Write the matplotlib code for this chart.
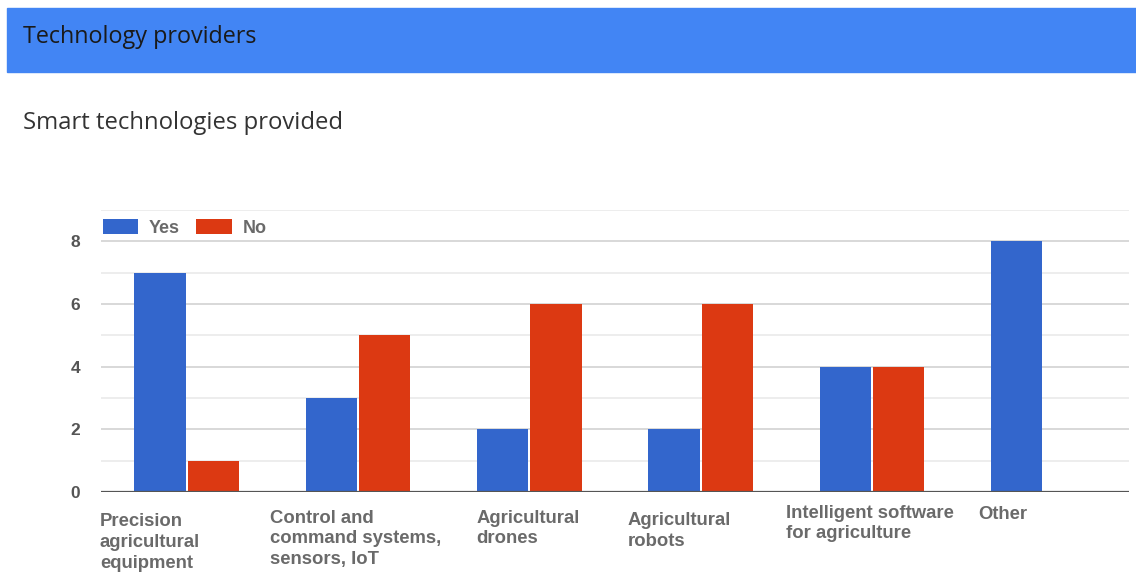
import numpy as np
import matplotlib.pyplot as plt
from matplotlib.patches import Rectangle

categories = [
    "Precision\nagricultural\nequipment",
    "Control and\ncommand systems,\nsensors, IoT",
    "Agricultural\ndrones",
    "Agricultural\nrobots",
    "Intelligent software\nfor agriculture",
    "Other",
]
yes_counts = [7, 3, 2, 2, 4, 8]
no_counts = [1, 5, 6, 6, 4, 0]
y_ticks = [0, 2, 4, 6, 8]

BLUE = "#3366cc"
RED = "#dc3912"
HEADER = "#4285f4"

plt.rcParams["font.family"] = ["Liberation Sans", "DejaVu Sans"]

fig = plt.figure(figsize=(11.36, 5.73), dpi=100)
fig.patch.set_facecolor("white")

# header band
fig.patches.append(Rectangle((7 / 1136, 1 - 72 / 573), 1, 64 / 573,
                             transform=fig.transFigure, color=HEADER, zorder=0))
fig.text(23 / 1136, 1 - 37 / 573, "Technology providers", fontsize=16.8,
         color="#1a1a1a", va="center", ha="left", family="Open Sans")
fig.text(23 / 1136, 1 - 123 / 573, "Smart technologies provided", fontsize=17.2,
         color="#333333", va="center", ha="left", family="Open Sans")

ax = fig.add_axes([101 / 1136, 1 - 492 / 573, 1028 / 1136, 282 / 573])
x = np.arange(len(categories))
w = 0.30
gap = 0.006
ax.bar(x - w / 2 - gap, yes_counts, w, color=BLUE, label="Yes", zorder=3)
ax.bar(x + w / 2 + gap, no_counts, w, color=RED, label="No", zorder=3)

ax.set_xlim(-0.5, len(categories) - 0.5)
ax.set_ylim(0, 9)

# gridlines: even values darker, odd values faint
for v in range(1, 10):
    ax.axhline(v, color="#d6d6d6" if v % 2 == 0 else "#ececec",
               lw=1.3, zorder=1)
ax.axhline(0, color="#555555", lw=1.6, zorder=4)

for s in ax.spines.values():
    s.set_visible(False)
ax.set_yticks(y_ticks)
ax.set_yticklabels([str(t) for t in y_ticks], fontsize=12.5, color="#555555",
                   fontweight="bold")
ax.tick_params(axis="y", length=0, pad=15)
ax.set_xticks([])

# category labels, left-aligned under each group
label_left = [-0.506, 0.485, 1.692, 2.573, 3.5, 4.62]
label_top = [-0.68, -0.56, -0.56, -0.63, -0.40, -0.44]
for lx, ly, txt in zip(label_left, label_top, categories):
    ax.text(lx, ly, txt, ha="left", va="top", fontsize=13.3, color="#6a6a6a",
            fontweight="bold", linespacing=1.3, clip_on=False)

leg = ax.legend(loc="upper left", bbox_to_anchor=(-0.005, 0.995), ncol=2,
                frameon=True, handlelength=1.95, handleheight=0.95,
                columnspacing=0.9, handletextpad=0.6, borderpad=0.2,
                borderaxespad=0.2, labelcolor="#6a6a6a",
                prop={"weight": "bold", "size": 13})
leg.get_frame().set_facecolor("white")
leg.get_frame().set_edgecolor("none")
leg.get_frame().set_alpha(1)
leg.set_zorder(5)

fig.savefig("out.png", dpi=100)
